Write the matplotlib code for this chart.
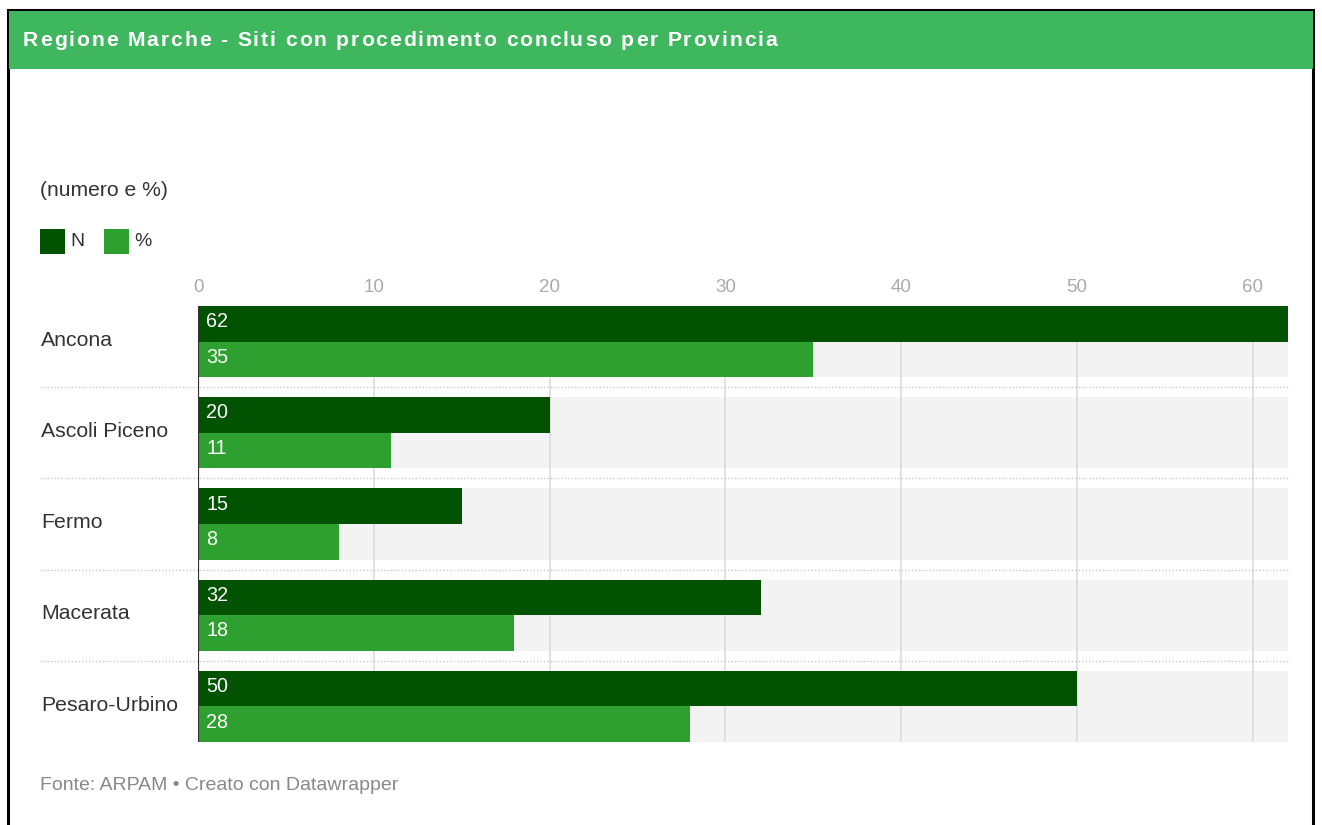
import numpy as np
import matplotlib
matplotlib.use("Agg")
import matplotlib.pyplot as plt
from matplotlib.patches import Rectangle

# dati
province = ["Ancona", "Ascoli Piceno", "Fermo", "Macerata", "Pesaro-Urbino"]
valori_n = [62, 20, 15, 32, 50]
valori_pct = [35, 11, 8, 18, 28]
ticks = [0, 10, 20, 30, 40, 50, 60]
titolo = "Regione Marche - Siti con procedimento concluso per Provincia"

C_N = "#015201"
C_PCT = "#2da02f"
C_HEADER = "#3fb75f"
C_BAND = "#f3f3f3"

plt.rcParams["font.family"] = ["Liberation Sans", "DejaVu Sans"]

W, H = 1322, 825
fig = plt.figure(figsize=(W / 100, H / 100), dpi=100)
fig.patch.set_facecolor("white")
renderer = fig.canvas.get_renderer()


def fx(px):
    return px / W


def fy(py):
    return 1 - py / H


def larghezza(s, **kw):
    t = fig.text(0, 0, s, **kw)
    w = t.get_window_extent(renderer).width
    t.remove()
    return w


def testo_spaziato(x_px, y_px, s, total_px, **kw):
    # titolo con spaziatura tra le lettere per arrivare alla larghezza voluta
    spacing = (total_px - larghezza(s, **kw)) / (len(s) - 1)
    for i, ch in enumerate(s):
        w = larghezza(s[:i], **kw) if i else 0
        fig.text(fx(x_px + w + i * spacing), fy(y_px), ch, **kw)


# cornice e intestazione
fig.patches.append(Rectangle((fx(8), fy(840)), fx(1313) - fx(8), fy(10) - fy(840),
                             transform=fig.transFigure, facecolor="none",
                             edgecolor="black", lw=2.2, zorder=0))
fig.patches.append(Rectangle((fx(9), fy(69)), fx(1313) - fx(9), fy(11) - fy(69),
                             transform=fig.transFigure, facecolor=C_HEADER,
                             edgecolor="none", zorder=1))
testo_spaziato(23, 41, titolo, 754, color="white", fontsize=15.2,
               fontweight="bold", va="center", ha="left")

fig.text(fx(40), fy(191), "(numero e %)", color="#333333", fontsize=15.2,
         va="center", ha="left")

# legenda
for x0, col, lab in [(40, C_N, "N"), (104, C_PCT, "%")]:
    fig.patches.append(Rectangle((fx(x0), fy(254)), fx(25), 25 / H,
                                 transform=fig.transFigure, facecolor=col,
                                 edgecolor="none"))
    fig.text(fx(x0 + 30), fy(241), lab, color="#333333", fontsize=14,
             va="center", ha="left")

# area del grafico
ax = fig.add_axes([fx(198), fy(742), fx(1288) - fx(198), (742 - 306) / H])
ax.set_facecolor("none")
bh = 0.39
y = np.arange(len(province))

ax.barh(y, [max(ticks) + 2] * len(province), height=2 * bh, color=C_BAND, zorder=0)
for t in ticks[1:]:
    ax.axvline(t, color="#dcdcdc", lw=1.2, zorder=1)
ax.barh(y - bh / 2, valori_n, height=bh, color=C_N, zorder=2)
ax.barh(y + bh / 2, valori_pct, height=bh, color=C_PCT, zorder=2)
ax.axvline(0, color="#333333", lw=1.6, zorder=3)

for i in range(len(province) - 1):
    ax.axhline(i + 0.5, xmin=-(198 - 40) / 1090, xmax=1, color="#c8c8c8",
               lw=1, ls=(0, (1, 1.5)), clip_on=False, zorder=1)

for i, (n, p) in enumerate(zip(valori_n, valori_pct)):
    ax.annotate(str(n), (0, i - bh / 2), xytext=(6, 1.5), textcoords="offset points",
                color="white", fontsize=14.2, va="center", ha="left", zorder=4)
    ax.annotate(str(p), (0, i + bh / 2), xytext=(6, 1.5), textcoords="offset points",
                color="white", fontsize=14.2, va="center", ha="left", zorder=4)
    ax.annotate(province[i], (0, i), xycoords=("figure fraction", "data"),
                xytext=(41 * 0.72, 1), textcoords="offset points",
                color="#333333", fontsize=15.3, va="center", ha="left")

ax.set_xlim(0, max(valori_n))
ax.set_ylim(len(province) - 1 + bh, -bh)
ax.set_xticks(ticks)
ax.xaxis.tick_top()
ax.tick_params(axis="x", length=0, pad=7, labelsize=13.5, labelcolor="#aaaaaa")
ax.set_yticks([])
for s in ax.spines.values():
    s.set_visible(False)

fig.text(fx(40), fy(785), "Fonte: ARPAM \u2022 Creato con Datawrapper",
         color="#888888", fontsize=14, va="center", ha="left")

fig.savefig("out.png", dpi=100)
